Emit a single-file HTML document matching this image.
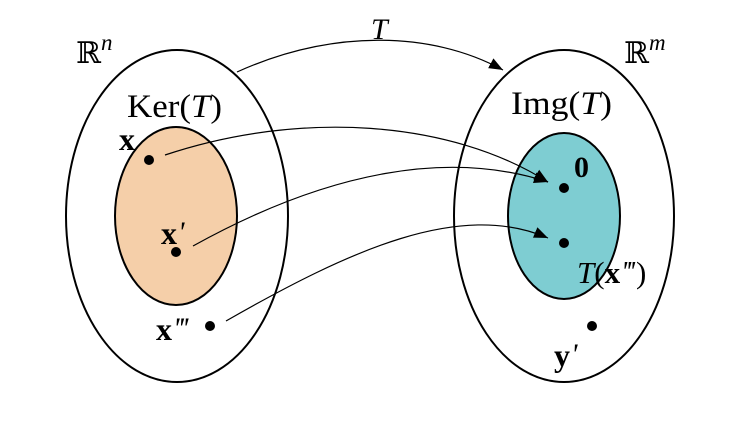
<!DOCTYPE html>
<html><head><meta charset="utf-8"><style>
html,body{margin:0;padding:0;background:#fff;}
svg{display:block}
text{font-family:"Liberation Serif","DejaVu Serif",serif;fill:#000}
.p{font-family:"Liberation Serif",serif;font-weight:normal;font-style:italic}
</style></head><body>
<svg width="742" height="426" viewBox="0 0 742 426" xmlns="http://www.w3.org/2000/svg">
<defs>
<marker id="ah" viewBox="0 0 10 10" refX="10" refY="5" markerWidth="14" markerHeight="14" markerUnits="userSpaceOnUse" orient="auto">
<path d="M0,1 L10,5 L0,9 z" fill="#000"/>
</marker>
</defs>
<ellipse cx="177" cy="216" rx="111" ry="166" fill="none" stroke="#000" stroke-width="2"/>
<ellipse cx="176" cy="216" rx="61" ry="89" fill="#f5cfa9" stroke="#000" stroke-width="2"/>
<ellipse cx="564" cy="216" rx="110" ry="166" fill="none" stroke="#000" stroke-width="2"/>
<ellipse cx="564" cy="216" rx="56" ry="83" fill="#7ecdd2" stroke="#000" stroke-width="2"/>
<g fill="#000">
<circle cx="149" cy="160" r="5"/>
<circle cx="176" cy="252" r="5"/>
<circle cx="210" cy="326" r="5"/>
<circle cx="564" cy="188" r="5"/>
<circle cx="564" cy="243" r="5"/>
<circle cx="592" cy="326" r="5"/>
</g>
<g fill="none" stroke="#000" stroke-width="1.2" marker-end="url(#ah)">
<path d="M237,72 C 330,30 430,30 503,70"/>
<path d="M165,155 C 300,110 450,120 548,182"/>
<path d="M193,246 C 330,170 450,150 548,182"/>
<path d="M226,321 C 350,250 460,200 548,238"/>
</g>
<text x="371" y="39" font-size="30" font-style="italic">T</text>
<text x="76" y="63" font-size="30">ℝ<tspan font-style="italic" font-size="23" dy="-13">n</tspan></text>
<text x="624" y="63" font-size="30">ℝ<tspan font-style="italic" font-size="23" dy="-13">m</tspan></text>
<text x="127" y="117" font-size="33" textLength="95" lengthAdjust="spacingAndGlyphs">Ker(<tspan font-style="italic">T</tspan>)</text>
<text x="511" y="114" font-size="33" textLength="101" lengthAdjust="spacingAndGlyphs">Img(<tspan font-style="italic">T</tspan>)</text>
<text x="119" y="150" font-size="32" font-weight="bold">x</text>
<text x="161" y="244" font-size="32" font-weight="bold">x<tspan class="p" font-size="30" dx="1" dy="-2">'</tspan></text>
<text x="156" y="340" font-size="32" font-weight="bold">x<tspan class="p" font-size="30" dx="1" dy="-2" letter-spacing="-2">'''</tspan></text>
<text x="574" y="177" font-size="30" font-weight="bold">0</text>
<text x="577" y="283" font-size="31"><tspan font-style="italic">T</tspan>(<tspan font-weight="bold">x</tspan><tspan class="p" font-size="28" dx="1" dy="-2" letter-spacing="-2">'''</tspan><tspan dx="3" dy="2">)</tspan></text>
<text x="554" y="366" font-size="32" font-weight="bold">y<tspan class="p" font-size="30" dx="1" dy="-2">'</tspan></text>
</svg>
</body></html>
